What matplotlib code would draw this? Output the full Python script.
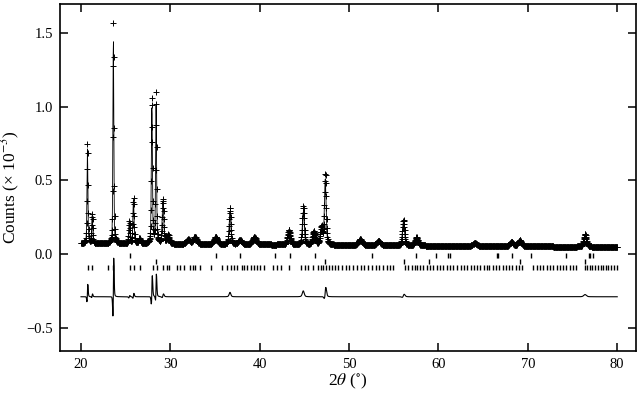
import numpy as np
import matplotlib
matplotlib.use("Agg")
import matplotlib.pyplot as plt

plt.rcParams['font.family'] = ['Liberation Serif', 'DejaVu Serif']
plt.rcParams['mathtext.fontset'] = 'stix'

# ---- data ----
two_theta_start, two_theta_end, two_theta_step = 20.0, 80.0, 0.03
bg_start, bg_end = 0.072, 0.048

peak_pos   = [20.72, 21.25, 23.62, 25.40, 25.87, 26.55, 27.93, 28.40, 29.17, 29.75,
              32.00, 32.75, 35.07, 36.67, 37.80, 39.40, 43.27, 44.87, 46.06, 46.90,
              47.33, 51.25, 53.30, 56.08, 57.55, 64.07, 68.18, 69.10, 76.40]
peak_calc  = [0.64, 0.19, 1.40, 0.15, 0.30, 0.035, 0.93, 0.93, 0.29, 0.06,
              0.03, 0.05, 0.05, 0.22, 0.03, 0.05, 0.10, 0.22, 0.09, 0.12,
              0.44, 0.04, 0.03, 0.16, 0.055, 0.02, 0.03, 0.04, 0.07]
peak_obs   = [0.68, 0.20, 1.50, 0.15, 0.31, 0.035, 1.00, 1.03, 0.30, 0.06,
              0.03, 0.05, 0.05, 0.25, 0.03, 0.05, 0.10, 0.26, 0.09, 0.12,
              0.48, 0.04, 0.03, 0.17, 0.055, 0.02, 0.03, 0.04, 0.085]
peak_fwhm  = [0.12, 0.13, 0.12, 0.15, 0.15, 0.25, 0.14, 0.13, 0.20, 0.30,
              0.45, 0.45, 0.45, 0.22, 0.45, 0.50, 0.35, 0.25, 0.35, 0.30,
              0.22, 0.50, 0.50, 0.28, 0.40, 0.50, 0.45, 0.45, 0.35]
peak_shift = [0.008, 0.006, 0.012, 0.006, 0.006, 0.0, 0.010, 0.008, 0.006, 0.0,
              0.0, 0.0, 0.0, 0.0, 0.0, 0.0, 0.0, 0.0, 0.0, 0.0,
              0.012, 0.0, 0.0, 0.012, 0.0, 0.0, 0.0, 0.0, 0.0]

# reflection markers (three phases)
refl_a = [25.48, 35.15, 37.79, 41.68, 43.36, 46.17, 52.58, 57.52, 59.77, 61.12, 61.30,
          66.50, 66.70, 68.20, 70.40, 74.32, 76.80, 77.00, 77.25]
refl_b = [28.42, 47.32, 56.12, 58.90, 69.12, 76.38]
refl_c = [20.82, 21.27, 23.06, 23.54, 25.48, 25.93, 26.60, 28.02, 28.46, 29.21, 29.58,
          29.88, 30.78, 31.07, 31.52, 32.19, 32.49, 32.79, 33.31, 34.50, 35.81, 36.29,
          36.74, 37.11, 37.41, 37.97, 38.27, 38.60, 38.98, 39.35, 39.65, 40.02, 40.47,
          41.51, 41.89, 42.33, 43.23, 44.57, 45.06, 45.43, 45.99, 46.55, 46.81, 47.11,
          47.41, 47.70, 48.04, 48.41, 48.78, 49.16, 49.64, 50.01, 50.46, 50.83, 51.28,
          51.65, 52.14, 52.59, 53.00, 53.37, 53.74, 54.19, 54.56, 54.94, 56.24, 56.61,
          56.99, 57.36, 57.62, 57.92, 58.29, 58.66, 59.04, 59.41, 59.78, 60.16, 60.53,
          60.90, 61.27, 61.65, 62.09, 62.47, 62.84, 63.21, 63.59, 63.96, 64.33, 64.70,
          65.08, 65.38, 65.67, 66.05, 66.42, 66.79, 67.17, 67.54, 67.91, 68.28, 68.66,
          69.03, 69.40, 70.60, 70.97, 71.34, 71.71, 72.09, 72.46, 72.83, 73.21, 73.58,
          73.95, 74.32, 74.70, 75.07, 75.44, 76.37, 76.64, 76.93, 77.23, 77.53, 77.83,
          78.13, 78.43, 78.72, 79.02, 79.32, 79.62, 79.92]
row_levels = [-0.009, -0.049, -0.088]
diff_offset = -0.29

x_ticks = [20, 30, 40, 50, 60, 70, 80]
y_ticks = [-0.5, 0.0, 0.5, 1.0, 1.5]

# ---- profile model ----
x = np.arange(two_theta_start, two_theta_end + 1e-9, two_theta_step)
bg = bg_start + (bg_end - bg_start) * (x - two_theta_start) / (two_theta_end - two_theta_start)


def pv(x, p, w, eta=0.4):
    g = np.exp(-4 * np.log(2) * ((x - p) / w) ** 2)
    l = 1.0 / (1.0 + 4 * ((x - p) / w) ** 2)
    return eta * l + (1 - eta) * g


calc = bg.copy()
obs = bg.copy()
for p, hc, ho, w, s in zip(peak_pos, peak_calc, peak_obs, peak_fwhm, peak_shift):
    calc += hc * pv(x, p, w)
    obs += ho * pv(x, p + s, w)
diff = obs - calc + diff_offset

# ---- figure ----
fig = plt.figure(figsize=(6.4, 3.96), dpi=100)
ax = fig.add_axes([60 / 640, 1 - 350.7 / 396, 576 / 640, 347.2 / 396])

ax.plot(x, obs, ls='none', marker='+', ms=5.0, mew=0.7, color='black')
ax.plot(x, calc, lw=0.6, color='black')
ax.plot(x, diff, lw=0.8, color='black')
for refl, lev in zip([refl_a, refl_b, refl_c], row_levels):
    ax.plot(refl, [lev] * len(refl), ls='none', marker='|', ms=3.6, mew=1.0, color='black')

ax.set_xlim(17.65, 82.1)
ax.set_ylim(-0.656, 1.70)
ax.set_xticks(x_ticks)
ax.set_yticks(y_ticks)
ax.set_xticklabels([str(v) for v in x_ticks])
ax.set_yticklabels(['\u22120.5', '0.0', '0.5', '1.0', '1.5'])
ax.tick_params(direction='in', length=6, width=1.1, top=True, right=True,
               labelsize=10.5, pad=5)
for sp in ax.spines.values():
    sp.set_linewidth(1.2)

ax.set_xlabel(r'2$\theta$ ($^{\circ}$)', fontsize=12.5, labelpad=1)
ax.set_ylabel('Counts (\u00d7 10$^{-3}$)', fontsize=12.5, labelpad=1)
ax.yaxis.set_label_coords(-0.066, 0.47)

fig.savefig('out.png', dpi=100)
